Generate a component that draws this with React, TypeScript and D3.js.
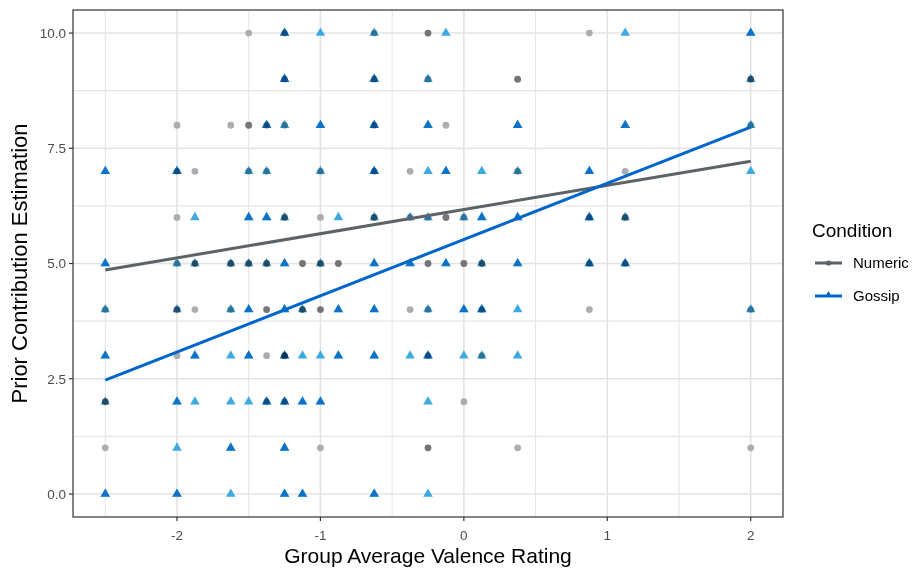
import React from 'react';
import * as d3 from 'd3';

// [x, y, count] — count = participants sharing the same spot
const numericPts: [number, number, number][] = [
  [-1.5, 10, 1], [-1.25, 10, 1], [-0.625, 10, 1], [-0.25, 10, 2], [0.875, 10, 1],
  [-1.25, 9, 1], [-0.625, 9, 1], [-0.25, 9, 1], [0.375, 9, 2], [2, 9, 2],
  [-2, 8, 1], [-1.625, 8, 1], [-1.5, 8, 2], [-1.375, 8, 1], [-1.25, 8, 1], [-0.625, 8, 1], [-0.125, 8, 1], [2, 8, 1],
  [-2, 7, 1], [-1.875, 7, 1], [-1.5, 7, 1], [-1.375, 7, 1], [-1, 7, 1], [-0.625, 7, 1], [-0.375, 7, 1], [0.375, 7, 1], [1.125, 7, 1],
  [-2, 6, 1], [-1.25, 6, 2], [-1, 6, 1], [-0.625, 6, 2], [-0.375, 6, 1], [-0.25, 6, 1], [-0.125, 6, 2], [0, 6, 1], [0.875, 6, 1], [1.125, 6, 2],
  [-2, 5, 1], [-1.875, 5, 2], [-1.625, 5, 2], [-1.5, 5, 2], [-1.375, 5, 2], [-1.125, 5, 2], [-1, 5, 2], [-0.875, 5, 2], [-0.25, 5, 2], [0, 5, 2], [0.125, 5, 2], [0.875, 5, 1], [1.125, 5, 1],
  [-2.5, 4, 1], [-2, 4, 2], [-1.875, 4, 1], [-1.625, 4, 1], [-1.375, 4, 2], [-1.125, 4, 2], [-1, 4, 2], [-0.375, 4, 1], [-0.25, 4, 1], [0.125, 4, 1], [0.875, 4, 1], [2, 4, 1],
  [-2, 3, 1], [-1.375, 3, 1], [-1.25, 3, 2], [-0.25, 3, 1], [0.125, 3, 1],
  [-2.5, 2, 2], [-1.375, 2, 1], [-1.25, 2, 1], [0, 2, 1],
  [-2.5, 1, 1], [-1, 1, 1], [-0.25, 1, 2], [0.375, 1, 1], [2, 1, 1],
];

const gossipPts: [number, number, number][] = [
  [-1.25, 10, 2], [-1, 10, 1], [-0.625, 10, 1], [-0.125, 10, 1], [1.125, 10, 1], [2, 10, 2],
  [-1.25, 9, 2], [-0.625, 9, 2], [-0.25, 9, 1], [2, 9, 1],
  [-1.375, 8, 2], [-1.25, 8, 1], [-1, 8, 2], [-0.625, 8, 2], [-0.25, 8, 2], [0.375, 8, 2], [1.125, 8, 2], [2, 8, 1],
  [-2.5, 7, 2], [-2, 7, 2], [-1.5, 7, 1], [-1.375, 7, 1], [-1, 7, 1], [-0.625, 7, 2], [-0.25, 7, 1], [-0.125, 7, 2], [0.125, 7, 1], [0.375, 7, 1], [0.875, 7, 2], [2, 7, 1],
  [-1.875, 6, 1], [-1.5, 6, 2], [-1.375, 6, 2], [-1.25, 6, 1], [-0.875, 6, 1], [-0.625, 6, 1], [-0.375, 6, 1], [-0.25, 6, 1], [0, 6, 1], [0.125, 6, 2], [0.375, 6, 2], [0.875, 6, 2], [1.125, 6, 1],
  [-2.5, 5, 2], [-2, 5, 1], [-1.875, 5, 1], [-1.625, 5, 1], [-1.5, 5, 1], [-1.375, 5, 1], [-1.25, 5, 2], [-1, 5, 1], [-0.625, 5, 2], [-0.375, 5, 2], [-0.125, 5, 2], [0.125, 5, 1], [0.375, 5, 2], [0.875, 5, 2], [1.125, 5, 2],
  [-2.5, 4, 1], [-2, 4, 1], [-1.625, 4, 1], [-1.5, 4, 2], [-1.25, 4, 2], [-1.125, 4, 1], [-0.875, 4, 2], [-0.625, 4, 2], [-0.25, 4, 1], [0, 4, 2], [0.125, 4, 2], [0.375, 4, 1], [2, 4, 1],
  [-2.5, 3, 2], [-1.875, 3, 2], [-1.625, 3, 1], [-1.5, 3, 2], [-1.25, 3, 2], [-1.125, 3, 1], [-1, 3, 1], [-0.875, 3, 2], [-0.625, 3, 2], [-0.375, 3, 1], [-0.25, 3, 2], [0, 3, 1], [0.125, 3, 1], [0.375, 3, 1],
  [-2.5, 2, 1], [-2, 2, 2], [-1.875, 2, 1], [-1.625, 2, 1], [-1.5, 2, 1], [-1.375, 2, 2], [-1.25, 2, 2], [-1.125, 2, 2], [-1, 2, 2], [-0.25, 2, 1],
  [-2, 1, 1], [-1.625, 1, 2], [-1.25, 1, 2],
  [-2.5, 0, 2], [-2, 0, 2], [-1.625, 0, 1], [-1.25, 0, 2], [-1.125, 0, 2], [-0.625, 0, 2], [-0.25, 0, 1],
];

// lm fit lines (x, fitted y at both ends)
const numericFit: [number, number][] = [[-2.5, 4.86], [2, 7.22]];
const gossipFit: [number, number][] = [[-2.5, 2.47], [2, 7.96]];

const xTicks = [-2, -1, 0, 1, 2];
const xMinor = [-2.5, -1.5, -0.5, 0.5, 1.5];
const yTicks = [0, 2.5, 5, 7.5, 10];
const yMinor = [1.25, 3.75, 6.25, 8.75];

const W = 912;
const H = 568;
const panel = { left: 73, right: 783, top: 10, bottom: 517 };
const font = '"Liberation Sans", Arial, sans-serif';

const numColor = '#abadb0';
const gosColor = '#3eaae1';
const numLine = '#5c6366';
const gosLine = '#0066cc';

const expand = (pts: [number, number, number][]) =>
  pts.flatMap(([x, y, n]) => d3.range(n).map(() => ({ x, y })));

export default function App() {
  const x = d3.scaleLinear().domain([-2.725, 2.225]).range([panel.left, panel.right]);
  const y = d3.scaleLinear().domain([-0.5, 10.5]).range([panel.bottom, panel.top]);

  const line = d3.line<[number, number]>().x(d => x(d[0])).y(d => y(d[1]));
  const tri = d3.symbol(d3.symbolTriangle, 40)();
  const triSmall = d3.symbol(d3.symbolTriangle, 22)();

  const nums = expand(numericPts);
  const goss = expand(gossipPts);

  return (
    <svg width={W} height={H} style={{ position: 'absolute', left: 0, top: 0, background: '#fff' }}>
      <rect width={W} height={H} fill="#fff" />
      {/* grid */}
      <g>
        {xMinor.map(v => (
          <line key={'xm' + v} x1={x(v)} x2={x(v)} y1={panel.top} y2={panel.bottom} stroke="#e6e6e6" strokeWidth={1.1} />
        ))}
        {yMinor.map(v => (
          <line key={'ym' + v} y1={y(v)} y2={y(v)} x1={panel.left} x2={panel.right} stroke="#e6e6e6" strokeWidth={1.1} />
        ))}
        {xTicks.map(v => (
          <line key={'xg' + v} x1={x(v)} x2={x(v)} y1={panel.top} y2={panel.bottom} stroke="#e3e3e3" strokeWidth={1.6} />
        ))}
        {yTicks.map(v => (
          <line key={'yg' + v} y1={y(v)} y2={y(v)} x1={panel.left} x2={panel.right} stroke="#e3e3e3" strokeWidth={1.6} />
        ))}
      </g>

      {/* points */}
      <g style={{ isolation: 'isolate' }}>
        {nums.map((d, i) => (
          <circle key={'n' + i} cx={x(d.x)} cy={y(d.y)} r={3.4} fill={numColor} style={{ mixBlendMode: 'multiply' }} />
        ))}
        {goss.map((d, i) => (
          <path key={'g' + i} d={tri} transform={`translate(${x(d.x)},${y(d.y)})`} fill={gosColor} style={{ mixBlendMode: 'multiply' }} />
        ))}
      </g>

      {/* fits */}
      <path d={line(numericFit) || ''} fill="none" stroke={numLine} strokeWidth={3} />
      <path d={line(gossipFit) || ''} fill="none" stroke={gosLine} strokeWidth={3} />

      {/* panel border */}
      <rect x={panel.left} y={panel.top} width={panel.right - panel.left} height={panel.bottom - panel.top} fill="none" stroke="#333" strokeWidth={1.2} />

      {/* axes */}
      <g fontFamily={font} fontSize={13.5} fill="#4d4d4d">
        {xTicks.map(v => (
          <g key={'xt' + v}>
            <line x1={x(v)} x2={x(v)} y1={panel.bottom} y2={panel.bottom + 4} stroke="#333" strokeWidth={1.2} />
            <text x={x(v)} y={540} textAnchor="middle">{v}</text>
          </g>
        ))}
        {yTicks.map(v => (
          <g key={'yt' + v}>
            <line x1={panel.left - 4} x2={panel.left} y1={y(v)} y2={y(v)} stroke="#333" strokeWidth={1.2} />
            <text x={66} y={y(v)} dy="0.36em" textAnchor="end">{d3.format('.1f')(v)}</text>
          </g>
        ))}
      </g>

      <text x={(panel.left + panel.right) / 2} y={563} textAnchor="middle" fontFamily={font} fontSize={21} fill="#000">
        Group Average Valence Rating
      </text>
      <text transform={`translate(27,${(panel.top + panel.bottom) / 2}) rotate(-90)`} textAnchor="middle" fontFamily={font} fontSize={22} fill="#000">
        Prior Contribution Estimation
      </text>

      {/* legend */}
      <g fontFamily={font}>
        <text x={812} y={237} fontSize={19} fill="#000">Condition</text>
        <line x1={815} x2={842} y1={263} y2={263} stroke={numLine} strokeWidth={3} />
        <circle cx={828.5} cy={263} r={2.6} fill={numLine} />
        <text x={853} y={263} dy="0.36em" fontSize={15} fill="#000">Numeric</text>
        <line x1={815} x2={842} y1={296} y2={296} stroke={gosLine} strokeWidth={3} />
        <path d={triSmall} transform="translate(828.5,295)" fill={gosLine} />
        <text x={853} y={296} dy="0.36em" fontSize={15} fill="#000">Gossip</text>
      </g>
    </svg>
  );
}
